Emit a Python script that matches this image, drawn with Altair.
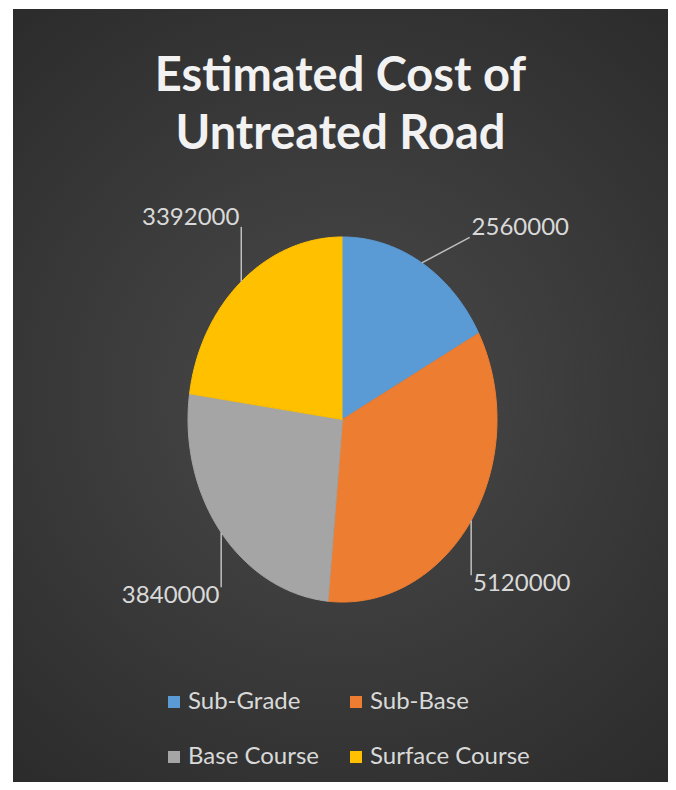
import altair as alt
import pandas as pd

# ---- data ----
categories = ["Sub-Grade", "Sub-Base", "Base Course", "Surface Course"]
costs = [2560000, 5120000, 3840000, 3392000]
title_lines = ["Estimated Cost of", "Untreated Road"]

# ---- styling ----
colors = ["#5b9bd5", "#ed7d31", "#a5a5a5", "#ffc000"]
FONT = "Lato, 'Open Sans', sans-serif"
W, H = 655, 773
N = 90  # arc resolution

df = pd.DataFrame({"category": categories, "cost": costs, "idx": list(range(len(categories)))})

x_scale = alt.Scale(domain=[-2.133, 2.107], nice=False, zero=False)
y_scale = alt.Scale(domain=[-1.986, 2.249], nice=False, zero=False)
color_scale = alt.Scale(domain=categories, range=colors)

base = (
    alt.Chart(df)
    .transform_joinaggregate(total="sum(cost)")
    .transform_window(cum="sum(cost)", sort=[alt.SortField("idx")], frame=[None, 0])
    .transform_calculate(
        a0="2*PI*(datum.cum - datum.cost)/datum.total",
        a1="2*PI*datum.cum/datum.total",
    )
    .transform_calculate(mid="(datum.a0 + datum.a1)/2")
    .transform_calculate(sx="sin(datum.mid)", sy="cos(datum.mid)")
)

# background (radial gradient)
bg = alt.Chart(alt.Data(values=[{"a": 1}])).mark_rect(
    fill=alt.Gradient(
        gradient="radial",
        stops=[alt.GradientStop(color="#4a4a4a", offset=0),
               alt.GradientStop(color="#272727", offset=1)],
        x1=0.5, y1=0.5, x2=0.5, y2=0.5, r1=0, r2=0.75,
    )
).encode(x=alt.value(0), x2=alt.value(W), y=alt.value(0), y2=alt.value(H))

pie = (
    base.transform_calculate(k=f"sequence(0, {N + 2})")
    .transform_flatten(["k"])
    .transform_calculate(t=f"datum.a0 + (datum.k - 1)/{N}*(datum.a1 - datum.a0)")
    .transform_calculate(
        px="datum.k == 0 ? 0 : sin(datum.t)",
        py="datum.k == 0 ? 0 : cos(datum.t)",
    )
    .mark_line(strokeWidth=1, interpolate="linear")
    .encode(
        x=alt.X("px:Q", scale=x_scale, axis=None),
        y=alt.Y("py:Q", scale=y_scale, axis=None),
        fill=alt.Fill(
            "category:N", scale=color_scale, sort=categories,
            legend=alt.Legend(
                orient="none", legendX=149, legendY=681, columns=2,
                direction="horizontal",
                symbolType="square", symbolSize=144, symbolStrokeWidth=0,
                labelFont=FONT, labelFontSize=24, labelColor="#d9d9d9",
                labelOffset=2, columnPadding=25, rowPadding=31,
                title=None, padding=0, labelLimit=0,
            ),
        ),
        stroke=alt.Stroke("category:N", scale=color_scale, sort=categories, legend=None),
        order=alt.Order("k:Q"),
    )
)

lead = base.transform_calculate(
    near="abs(datum.sy) > 0.8",
    hs="datum.sx > 0 ? 1 : -1",
    vs="datum.sy > 0 ? 1 : -1",
).transform_calculate(
    ex="datum.sx + (datum.near ? 0.31 : 0) * datum.hs",
    ey="datum.sy + (datum.near ? 0.14 : 0.3) * datum.vs",
).transform_calculate(
    lx="datum.ex + 0.012 * datum.hs",
    ly="datum.ey + 0.05 * datum.vs",
)

rules = lead.mark_rule(color="#bfbfbf", strokeWidth=1.5).encode(
    x=alt.X("sx:Q", scale=x_scale, axis=None),
    y=alt.Y("sy:Q", scale=y_scale, axis=None),
    x2="ex:Q",
    y2="ey:Q",
)

label_enc = dict(
    x=alt.X("lx:Q", scale=x_scale, axis=None),
    y=alt.Y("ly:Q", scale=y_scale, axis=None),
    text=alt.Text("cost:Q", format="d"),
)
labels_r = lead.transform_filter("datum.sx > 0").mark_text(
    align="left", baseline="middle", font=FONT, fontSize=24, color="#d9d9d9"
).encode(**label_enc)
labels_l = lead.transform_filter("datum.sx <= 0").mark_text(
    align="right", baseline="middle", font=FONT, fontSize=24, color="#d9d9d9"
).encode(**label_enc)

chart = (
    alt.layer(bg, pie, rules, labels_r, labels_l)
    .properties(
        width=W,
        height=H,
        autosize=alt.AutoSizeParams(type="none"),
        padding={"left": 5, "top": 1, "right": 0, "bottom": 0},
        background="white",
        title=alt.TitleParams(
            text=title_lines, anchor="middle", font=FONT, fontSize=47,
            fontWeight="bold", color="#f2f2f2", lineHeight=58,
            baseline="top", offset=0, dy=150,
        ),
    )
    .configure_view(stroke=None)
)

chart.save("out.html", embed_options={"renderer": "svg", "actions": False})
